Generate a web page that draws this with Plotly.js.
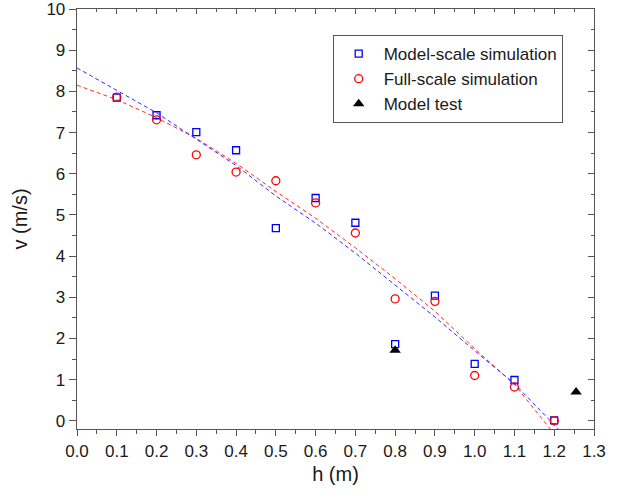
<!DOCTYPE html>
<html><head><meta charset="utf-8">
<script src="https://cdn.plot.ly/plotly-3.0.1.min.js"></script>
<style>html,body{margin:0;padding:0;background:#fff}</style>
</head><body><div id="chart" style="width:620px;height:502px"></div>
<script>
// Data
const h = [0.1, 0.2, 0.3, 0.4, 0.5, 0.6, 0.7, 0.8, 0.9, 1.0, 1.1, 1.2];
const modelScaleV = [7.85, 7.42, 7.01, 6.57, 4.68, 5.41, 4.81, 1.86, 3.04, 1.38, 0.99, 0.01];
const fullScaleV = [7.86, 7.31, 6.46, 6.04, 5.83, 5.29, 4.56, 2.96, 2.90, 1.10, 0.82, 0.00];
const testH = [0.8, 1.255];
const testV = [1.71, 0.70];
// Dashed fit curves
const blueFitH = [0, 0.1, 0.2, 0.3, 0.4, 0.5, 0.6, 0.7, 0.8, 0.9, 1.0, 1.1, 1.2, 1.21];
const blueFitV = [8.57, 8.02, 7.48, 6.84, 6.20, 5.46, 4.80, 4.07, 3.29, 2.52, 1.70, 0.90, -0.10, -0.20];
const redFitH = [0, 0.1, 0.2, 0.3, 0.4, 0.5, 0.6, 0.7, 0.8, 0.9, 1.0, 1.1, 1.19];
const redFitV = [8.15, 7.80, 7.36, 6.86, 6.25, 5.57, 4.92, 4.20, 3.45, 2.66, 1.75, 0.88, -0.20];
const seriesNames = ['Model-scale simulation', 'Full-scale simulation', 'Model test'];
const xTitle = 'h (m)';
const yTitle = 'v (m/s)';

const FONT = "Arial, 'Liberation Sans', sans-serif";
const AX = '#555555';

const traces = [
  // blue fit drawn on the mirrored (top/right) axes, which share the same ranges
  {x: blueFitH, y: blueFitV, xaxis: 'x2', yaxis: 'y2', mode: 'lines', showlegend: false, hoverinfo: 'skip',
   line: {color: '#2a2aff', width: 1, dash: '4px,3px'}},
  {x: redFitH, y: redFitV, mode: 'lines', showlegend: false, hoverinfo: 'skip',
   line: {color: '#ff2a2a', width: 1, dash: '4px,3px'}},
  {x: h, y: modelScaleV, mode: 'markers', name: seriesNames[0],
   marker: {symbol: 'square-open', size: 7, color: '#0000ff', line: {width: 1.3, color: '#0000ff'}}},
  {x: h, y: fullScaleV, mode: 'markers', name: seriesNames[1],
   marker: {symbol: 'circle-open', size: 8, color: '#ff0000', line: {width: 1.3, color: '#ff0000'}}},
  {x: testH, y: testV, mode: 'markers', name: seriesNames[2],
   marker: {symbol: 'triangle-up', size: 10, color: '#000000'}}
];

const common = {showgrid: false, zeroline: false, showline: true, linecolor: AX, linewidth: 1.3,
  tickcolor: AX, tickwidth: 1, ticklabeloverflow: 'allow'};
const XR = [0, 1.3], YR = [-0.2, 10.001];

const layout = {
  width: 620, height: 502,
  margin: {l: 77, r: 26, t: 9, b: 73},
  paper_bgcolor: '#fff', plot_bgcolor: '#fff',
  font: {family: FONT, color: '#1a1a1a', size: 17},
  showlegend: true,
  legend: {x: 0.4946, y: 0.938, xanchor: 'left', yanchor: 'top', bgcolor: '#fff',
    bordercolor: AX, borderwidth: 1, font: {family: FONT, size: 17, color: '#1a1a1a'},
    traceorder: 'normal', itemwidth: 40, tracegroupgap: 0},
  xaxis: Object.assign({}, common, {range: XR, tick0: 0, dtick: 0.1, tickformat: '.1f',
    ticks: 'outside', ticklen: 6,
    minor: {ticks: 'outside', dtick: 0.05, tick0: 0, ticklen: 3.5, tickcolor: AX, tickwidth: 1},
    tickfont: {size: 17, family: FONT, color: '#1a1a1a'},
    title: {text: xTitle, font: {size: 20, family: FONT, color: '#1a1a1a'}, standoff: 7}}),
  yaxis: Object.assign({}, common, {range: YR, tick0: 0, dtick: 1,
    ticks: 'outside', ticklen: 7,
    minor: {ticks: 'outside', dtick: 0.5, tick0: 0, ticklen: 3.5, tickcolor: AX, tickwidth: 1},
    tickfont: {size: 17, family: FONT, color: '#1a1a1a'},
    title: {text: yTitle, font: {size: 20, family: FONT, color: '#1a1a1a'}, standoff: 13}}),
  xaxis2: Object.assign({}, common, {overlaying: 'x', side: 'top', anchor: 'y', range: XR,
    tick0: 0, dtick: 0.1, ticks: 'inside', ticklen: 5, showticklabels: false,
    minor: {ticks: 'inside', dtick: 0.05, tick0: 0, ticklen: 3, tickcolor: AX, tickwidth: 1}}),
  yaxis2: Object.assign({}, common, {overlaying: 'y', side: 'right', anchor: 'x', range: YR,
    tick0: 0, dtick: 1, ticks: 'inside', ticklen: 6, showticklabels: false,
    minor: {ticks: 'inside', dtick: 0.5, tick0: 0, ticklen: 3, tickcolor: AX, tickwidth: 1}})
};

Plotly.newPlot('chart', traces, layout, {staticPlot: true, displayModeBar: false});
</script>
</body></html>
